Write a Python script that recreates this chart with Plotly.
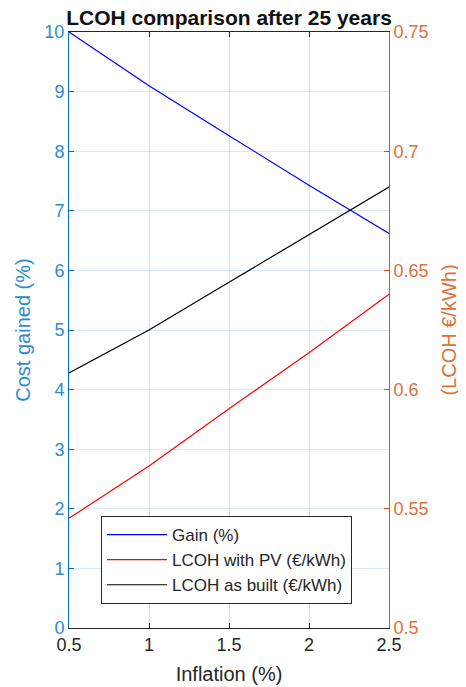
import plotly.graph_objects as go

inflation = [0.5, 1.0, 1.5, 2.0, 2.5]
gain_pct = [10.0, 9.1, 8.26, 7.43, 6.62]
lcoh_pv = [0.546, 0.568, 0.592, 0.6155, 0.640]
lcoh_built = [0.607, 0.625, 0.645, 0.665, 0.685]

x_ticks = [0.5, 1.0, 1.5, 2.0, 2.5]
x_tick_labels = ["0.5", "1", "1.5", "2", "2.5"]
left_ticks = list(range(0, 11))
right_ticks = [0.5, 0.55, 0.6, 0.65, 0.7, 0.75]
right_tick_labels = ["0.5", "0.55", "0.6", "0.65", "0.7", "0.75"]

FONT = "Liberation Sans, Arial, Helvetica, sans-serif"
BLUE_AX = "#0072BD"
ORANGE_AX = "#D95319"
DARK = "#262626"

# page body has an 8px default margin, so the figure is sized to sit inside the window
W, H = 458, 679

fig = go.Figure()
fig.add_trace(go.Scatter(x=inflation, y=gain_pct, mode="lines", name="Gain (%)",
                         line=dict(color="#0000FF", width=1.2), yaxis="y"))
fig.add_trace(go.Scatter(x=inflation, y=lcoh_pv, mode="lines", name="LCOH with PV (€/kWh)",
                         line=dict(color="#FF0000", width=1.2), yaxis="y2"))
fig.add_trace(go.Scatter(x=inflation, y=lcoh_built, mode="lines", name="LCOH as built (€/kWh)",
                         line=dict(color="#000000", width=1.2), yaxis="y2"))

fig.update_layout(
    width=W, height=H,
    margin=dict(l=61, r=77, t=24, b=59, autoexpand=False),
    paper_bgcolor="white", plot_bgcolor="white",
    font=dict(family=FONT, size=18, color=DARK),
    title=dict(text="<b>LCOH comparison after 25 years</b>", x=0.5, xref="paper", xanchor="center",
               y=1 - 2 / H, yref="container", yanchor="top", pad=dict(t=0, b=0), automargin=False,
               font=dict(family=FONT, size=21, color="#111111")),
    xaxis=dict(range=[0.5, 2.5], tickvals=x_ticks, ticktext=x_tick_labels, automargin=False,
               showgrid=True, gridcolor="rgba(38,38,38,0.15)", gridwidth=1,
               zeroline=False, showline=True, linecolor=DARK, linewidth=1,
               mirror="ticks", ticks="inside", ticklen=5, tickcolor=DARK,
               tickfont=dict(size=18, color=DARK),
               title=dict(text="Inflation (%)", font=dict(size=20, color=DARK), standoff=13)),
    yaxis=dict(range=[0, 10], tickvals=left_ticks, showgrid=True, automargin=False,
               gridcolor="rgba(0,114,189,0.15)", gridwidth=1, zeroline=False,
               showline=True, linecolor=BLUE_AX, linewidth=1, ticks="inside", ticklen=5,
               tickcolor=BLUE_AX, tickfont=dict(size=18, color="#2E8BCF"),
               title=dict(text="Cost gained (%)", font=dict(size=20, color="#2E8BCF"), standoff=8)),
    yaxis2=dict(range=[0.5, 0.75], tickvals=right_ticks, ticktext=right_tick_labels,
                overlaying="y", side="right", showgrid=False, zeroline=False, automargin=False,
                showline=True, linecolor=ORANGE_AX, linewidth=1, ticks="inside", ticklen=5,
                tickcolor=ORANGE_AX, tickfont=dict(size=18, color="#E0703A"),
                title=dict(text="(LCOH €/kWh)", font=dict(size=20, color="#E0703A"), standoff=14)),
    legend=dict(x=(101 - 69) / 320, y=(628 - 516) / 596, xanchor="left", yanchor="top",
                bgcolor="white", bordercolor="#262626", borderwidth=1, itemwidth=60,
                font=dict(family=FONT, size=17, color=DARK), tracegroupgap=0),
    showlegend=True,
)

fig.write_html("out.html")
